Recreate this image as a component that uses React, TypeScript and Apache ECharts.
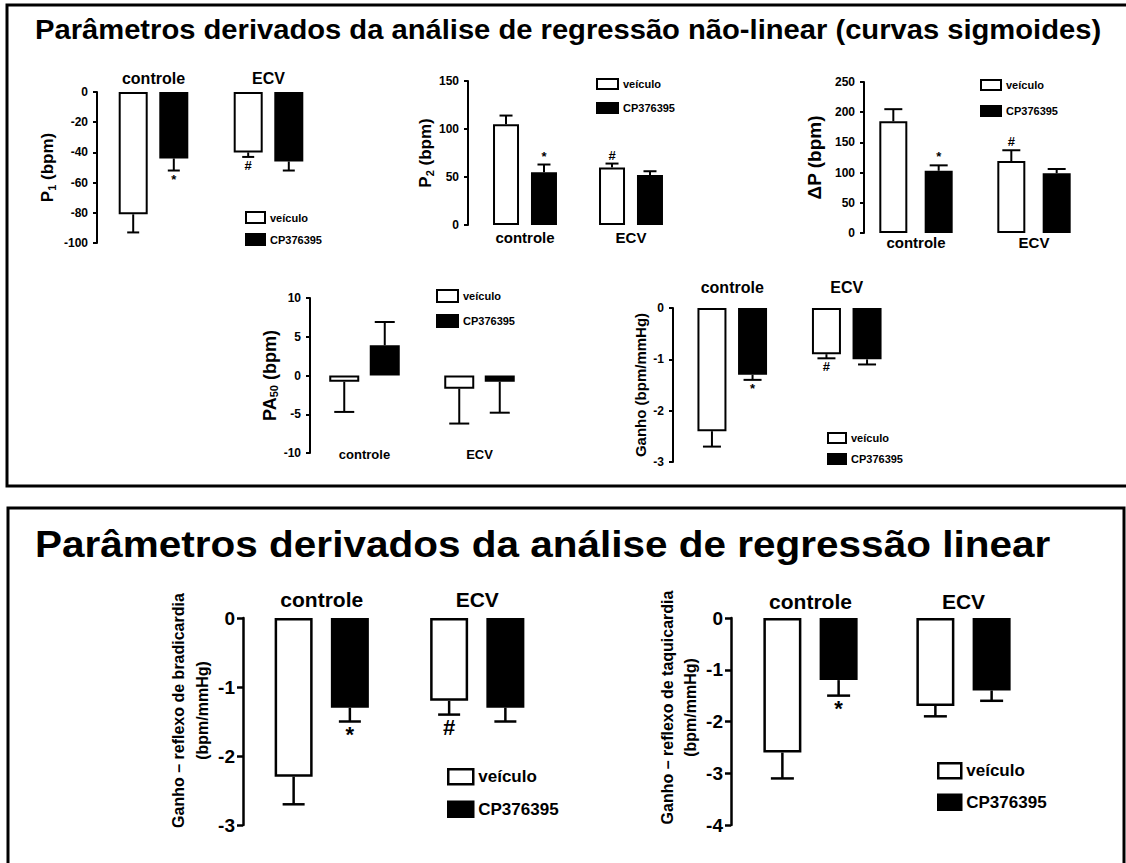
import React, { useEffect, useRef } from 'react';
import * as echarts from 'echarts';

const FONT = '"Liberation Sans", Arial, Helvetica, sans-serif';

const groups = ['controle', 'ECV'];
const seriesNames = ['veículo', 'CP376395'];

const titleTop = 'Parâmetros derivados da análise de regressão não-linear (curvas sigmoides)';
const titleBottom = 'Parâmetros derivados da análise de regressão linear';

// P1 (bpm)
const p1Veiculo = [-81, -40];
const p1VeiculoSem = [12, 3];
const p1Cp = [-44, -46];
const p1CpSem = [8, 6];
const p1VeiculoMarks = ['', '#'];
const p1CpMarks = ['*', ''];

// P2 (bpm)
const p2Veiculo = [105, 60];
const p2VeiculoSem = [9, 4];
const p2Cp = [55, 52];
const p2CpSem = [8, 4];
const p2VeiculoMarks = ['', '#'];
const p2CpMarks = ['*', ''];

// ΔP (bpm)
const dpVeiculo = [185, 119];
const dpVeiculoSem = [20, 18];
const dpCp = [103, 99];
const dpCpSem = [9, 7];
const dpVeiculoMarks = ['', '#'];
const dpCpMarks = ['*', ''];

// PA50 (bpm)
const paVeiculo = [-0.8, -1.7];
const paVeiculoSem = [3.9, 4.5];
const paCp = [3.9, -0.8];
const paCpSem = [3.0, 4.0];
const paVeiculoMarks = ['', ''];
const paCpMarks = ['', ''];

// Ganho (bpm/mmHg) sigmoid
const gVeiculo = [-2.4, -0.9];
const gVeiculoSem = [0.3, 0.08];
const gCp = [-1.3, -1.0];
const gCpSem = [0.1, 0.1];
const gVeiculoMarks = ['', '#'];
const gCpMarks = ['*', ''];

// Ganho – reflexo de bradicardia
const bVeiculo = [-2.3, -1.2];
const bVeiculoSem = [0.4, 0.2];
const bCp = [-1.3, -1.3];
const bCpSem = [0.2, 0.2];
const bVeiculoMarks = ['', '#'];
const bCpMarks = ['*', ''];

// Ganho – reflexo de taquicardia
const tVeiculo = [-2.6, -1.7];
const tVeiculoSem = [0.5, 0.2];
const tCp = [-1.2, -1.4];
const tCpSem = [0.3, 0.2];
const tVeiculoMarks = ['', ''];
const tCpMarks = ['*', ''];

type Panel = {
  grid: { left: number; top: number; width: number; height: number };
  y: { min: number; max: number; interval: number };
  offset: number;
  xPos: 'top' | 'bottom';
  xFont: number;
  xMargin: number;
  tickFont: number;
  tickLen: number;
  tickMargin: number;
  bw: number;
  gapPct: number;
  cap: number;
  lw: number;
  markSize: number;
  name: string;
  nameGap: number;
  nameStyle: any;
  legend: { left: number; top: number; w: number; h: number; gap: number; font: number };
  veh: number[];
  vehSem: number[];
  vehMarks: string[];
  cp: number[];
  cpSem: number[];
  cpMarks: string[];
};

const small = { fontWeight: 'bold', color: '#000', fontFamily: FONT };

const panels: Panel[] = [
  {
    grid: { left: 96, top: 92, width: 230, height: 151 },
    y: { min: -100, max: 0, interval: 20 },
    offset: -1, xPos: 'top', xFont: 16, xMargin: 6, tickFont: 12, tickLen: 4, tickMargin: 9,
    bw: 29, gapPct: 40, cap: 12, lw: 2, markSize: 13,
    name: '{a|P}{s|1}{a| (bpm)}', nameGap: 40,
    nameStyle: { rich: { a: { fontSize: 17, ...small }, s: { fontSize: 11, ...small, padding: [8, 0, 0, 0] } } },
    legend: { left: 245, top: 211, w: 19, h: 11, gap: 9, font: 11 },
    veh: p1Veiculo, vehSem: p1VeiculoSem, vehMarks: p1VeiculoMarks,
    cp: p1Cp, cpSem: p1CpSem, cpMarks: p1CpMarks,
  },
  {
    grid: { left: 472, top: 81, width: 212, height: 144 },
    y: { min: 0, max: 150, interval: 50 },
    offset: 4, xPos: 'bottom', xFont: 15, xMargin: 5, tickFont: 12, tickLen: 4, tickMargin: 9,
    bw: 26, gapPct: 46, cap: 13, lw: 2, markSize: 13,
    name: '{a|P}{s|2}{a| (bpm)}', nameGap: 30,
    nameStyle: { rich: { a: { fontSize: 17, ...small }, s: { fontSize: 11, ...small, padding: [8, 0, 0, 0] } } },
    legend: { left: 596, top: 78, w: 21, h: 10, gap: 12, font: 11 },
    veh: p2Veiculo, vehSem: p2VeiculoSem, vehMarks: p2VeiculoMarks,
    cp: p2Cp, cpSem: p2CpSem, cpMarks: p2CpMarks,
  },
  {
    grid: { left: 857, top: 82, width: 236, height: 151 },
    y: { min: 0, max: 250, interval: 50 },
    offset: -7, xPos: 'bottom', xFont: 15, xMargin: 2, tickFont: 12, tickLen: 4, tickMargin: 9,
    bw: 28, gapPct: 62, cap: 18, lw: 2, markSize: 13,
    name: 'ΔP (bpm)', nameGap: 40,
    nameStyle: { fontSize: 19, ...small },
    legend: { left: 980, top: 79, w: 20, h: 10, gap: 14, font: 11 },
    veh: dpVeiculo, vehSem: dpVeiculoSem, vehMarks: dpVeiculoMarks,
    cp: dpCp, cpSem: dpCpSem, cpMarks: dpCpMarks,
  },
  {
    grid: { left: 307, top: 298, width: 230, height: 155 },
    y: { min: -10, max: 10, interval: 5 },
    offset: -3, xPos: 'bottom', xFont: 13, xMargin: -5, tickFont: 12, tickLen: 4, tickMargin: 9,
    bw: 30, gapPct: 35, cap: 20, lw: 2, markSize: 13,
    name: '{a|PA}{s|50}{a| (bpm)}', nameGap: 29,
    nameStyle: { rich: { a: { fontSize: 18, ...small }, s: { fontSize: 11, ...small, padding: [8, 0, 0, 0] } } },
    legend: { left: 436, top: 289, w: 21, h: 12, gap: 11, font: 11 },
    veh: paVeiculo, vehSem: paVeiculoSem, vehMarks: paVeiculoMarks,
    cp: paCp, cpSem: paCpSem, cpMarks: paCpMarks,
  },
  {
    grid: { left: 675, top: 308, width: 229, height: 154 },
    y: { min: -3, max: 0, interval: 1 },
    offset: 2, xPos: 'top', xFont: 16, xMargin: 13, tickFont: 12, tickLen: 4, tickMargin: 9,
    bw: 29, gapPct: 40, cap: 18, lw: 2, markSize: 13,
    name: 'Ganho (bpm/mmHg)', nameGap: 25,
    nameStyle: { fontSize: 15, ...small },
    legend: { left: 827, top: 432, w: 18, h: 10, gap: 9, font: 11 },
    veh: gVeiculo, vehSem: gVeiculoSem, vehMarks: gVeiculoMarks,
    cp: gCp, cpSem: gCpSem, cpMarks: gCpMarks,
  },
  {
    grid: { left: 244, top: 618, width: 311, height: 207 },
    y: { min: -3, max: 0, interval: 1 },
    offset: 1, xPos: 'top', xFont: 21, xMargin: 8, tickFont: 19, tickLen: 6, tickMargin: 8,
    bw: 38, gapPct: 48, cap: 22, lw: 2.5, markSize: 22,
    name: 'Ganho – reflexo de bradicardia\n(bpm/mmHg)', nameGap: 29,
    nameStyle: { fontSize: 16, lineHeight: 24, ...small, padding: [0, 0, 0, 22] },
    legend: { left: 447, top: 768, w: 25, h: 15, gap: 15, font: 17 },
    veh: bVeiculo, vehSem: bVeiculoSem, vehMarks: bVeiculoMarks,
    cp: bCp, cpSem: bCpSem, cpMarks: bCpMarks,
  },
  {
    grid: { left: 734, top: 618, width: 306, height: 207 },
    y: { min: -4, max: 0, interval: 1 },
    offset: 3, xPos: 'top', xFont: 21, xMargin: 6, tickFont: 19, tickLen: 6, tickMargin: 8,
    bw: 38, gapPct: 48, cap: 23, lw: 2.5, markSize: 22,
    name: 'Ganho – reflexo de taquicardia\n(bpm/mmHg)', nameGap: 27,
    nameStyle: { fontSize: 16, lineHeight: 23, ...small, padding: [0, 0, 0, 28] },
    legend: { left: 937, top: 762, w: 23, h: 15, gap: 14, font: 17 },
    veh: tVeiculo, vehSem: tVeiculoSem, vehMarks: tVeiculoMarks,
    cp: tCp, cpSem: tCpSem, cpMarks: tCpMarks,
  },
];

function errorSeries(idx: number, p: Panel, vals: number[], sems: number[], marks: string[], side: number) {
  const shift = (p.bw + (p.bw * p.gapPct) / 100) / 2;
  return {
    type: 'custom',
    name: `err-${idx}-${side}`,
    xAxisIndex: idx,
    yAxisIndex: idx,
    z: 5,
    silent: true,
    data: vals.map((v, i) => [i, v, v >= 0 ? v + sems[i] : v - sems[i]]),
    renderItem: (params: any, api: any) => {
      const i = api.value(0);
      const v = api.value(1);
      const e = api.value(2);
      const c0 = api.coord([i, v]);
      const c1 = api.coord([i, e]);
      const cx = c0[0] + side * shift;
      const down = e < v;
      const mark = marks[params.dataIndex];
      const children: any[] = [
        { type: 'line', shape: { x1: cx, y1: c0[1], x2: cx, y2: c1[1] }, style: { stroke: '#000', lineWidth: p.lw } },
        { type: 'line', shape: { x1: cx - p.cap / 2, y1: c1[1], x2: cx + p.cap / 2, y2: c1[1] }, style: { stroke: '#000', lineWidth: p.lw } },
      ];
      if (mark) {
        children.push({
          type: 'text',
          style: {
            text: mark,
            x: cx,
            y: down ? c1[1] + 2 : c1[1] - 2,
            align: 'center',
            verticalAlign: down ? 'top' : 'bottom',
            fontSize: p.markSize,
            fontWeight: 'bold',
            fontFamily: FONT,
            fill: '#000',
          },
        });
      }
      return { type: 'group', children };
    },
  };
}

function buildOption() {
  const grid: any[] = [];
  const xAxis: any[] = [];
  const yAxis: any[] = [];
  const series: any[] = [];
  const legend: any[] = [];
  panels.forEach((p, idx) => {
    grid.push({ ...p.grid, containLabel: false });
    xAxis.push({
      type: 'category',
      gridIndex: idx,
      data: groups,
      position: p.xPos,
      axisLine: { show: false, onZero: false },
      axisTick: { show: false },
      splitLine: { show: false },
      axisLabel: { fontSize: p.xFont, fontWeight: 'bold', color: '#000', fontFamily: FONT, margin: p.xMargin },
    });
    yAxis.push({
      type: 'value',
      gridIndex: idx,
      min: p.y.min,
      max: p.y.max,
      interval: p.y.interval,
      offset: p.offset,
      axisLine: { show: true, lineStyle: { color: '#000', width: p.lw } },
      axisTick: { show: true, length: p.tickLen, lineStyle: { color: '#000', width: p.lw } },
      splitLine: { show: false },
      axisLabel: { fontSize: p.tickFont, fontWeight: 'bold', color: '#000', fontFamily: FONT, margin: p.tickMargin },
      name: p.name,
      nameLocation: 'middle',
      nameGap: p.nameGap,
      nameTextStyle: { color: '#000', fontFamily: FONT, fontWeight: 'bold', ...p.nameStyle },
    });
    series.push({
      type: 'bar',
      name: seriesNames[0],
      xAxisIndex: idx,
      yAxisIndex: idx,
      data: p.veh,
      barWidth: p.bw,
      barGap: `${p.gapPct}%`,
      itemStyle: { color: '#fff', borderColor: '#000', borderWidth: p.lw },
      silent: true,
    });
    series.push({
      type: 'bar',
      name: seriesNames[1],
      xAxisIndex: idx,
      yAxisIndex: idx,
      data: p.cp,
      barWidth: p.bw,
      barGap: `${p.gapPct}%`,
      itemStyle: { color: '#000', borderColor: '#000', borderWidth: p.lw },
      silent: true,
    });
    series.push(errorSeries(idx, p, p.veh, p.vehSem, p.vehMarks, -1));
    series.push(errorSeries(idx, p, p.cp, p.cpSem, p.cpMarks, 1));
    legend.push({
      data: seriesNames,
      orient: 'vertical',
      left: p.legend.left,
      top: p.legend.top,
      itemWidth: p.legend.w,
      itemHeight: p.legend.h,
      itemGap: p.legend.gap,
      padding: 0,
      icon: 'rect',
      selectedMode: false,
      itemStyle: { borderColor: '#000', borderWidth: p.lw },
      textStyle: { fontSize: p.legend.font, fontWeight: 'bold', color: '#000', fontFamily: FONT, lineHeight: p.legend.h },
    });
  });

  return {
    animation: false,
    backgroundColor: '#fff',
    graphic: [
      { type: 'rect', shape: { x: 7, y: 5, width: 1130, height: 481 }, style: { fill: 'none', stroke: '#000', lineWidth: 3 }, silent: true },
      { type: 'rect', shape: { x: 8, y: 508, width: 1116, height: 420 }, style: { fill: 'none', stroke: '#000', lineWidth: 3 }, silent: true },
      {
        type: 'text', x: 35, y: 30, scaleX: 1.08, silent: true,
        style: { text: titleTop, x: 0, y: 0, align: 'left', verticalAlign: 'middle', fontSize: 27, fontWeight: 'bold', fontFamily: FONT, fill: '#000' },
      },
      {
        type: 'text', x: 35, y: 544, scaleX: 1.095, silent: true,
        style: { text: titleBottom, x: 0, y: 0, align: 'left', verticalAlign: 'middle', fontSize: 37, fontWeight: 'bold', fontFamily: FONT, fill: '#000' },
      },
    ],
    grid,
    xAxis,
    yAxis,
    legend,
    series,
  };
}

export default function App() {
  const ref = useRef<HTMLDivElement>(null);
  useEffect(() => {
    if (!ref.current) return;
    const chart = echarts.init(ref.current, undefined, { renderer: 'svg' });
    chart.setOption(buildOption() as any);
    return () => chart.dispose();
  }, []);
  return <div ref={ref} style={{ position: 'fixed', left: 0, top: 0, width: 1126, height: 863 }} />;
}
